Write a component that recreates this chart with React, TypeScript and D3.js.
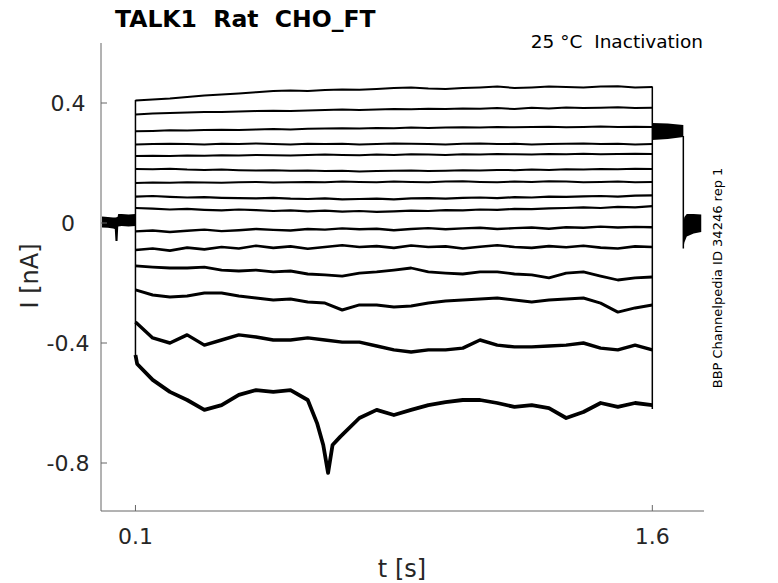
import React, { useRef, useEffect } from 'react';
import * as d3 from 'd3';

// sample times during the voltage step [s]
const stepTimes = [
  0.1, 0.15, 0.2, 0.25, 0.3, 0.35, 0.4, 0.45, 0.5, 0.55, 0.6, 0.65, 0.7, 0.75, 0.8, 0.85,
  0.9, 0.95, 1.0, 1.05, 1.1, 1.15, 1.2, 1.25, 1.3, 1.35, 1.4, 1.45, 1.5, 1.55, 1.6,
];
// the deepest sweep is read more densely around its dip
const trace15Times = [
  0.1, 0.105, 0.15, 0.2, 0.25, 0.3, 0.35, 0.4, 0.45, 0.5, 0.55, 0.6, 0.627, 0.645, 0.659, 0.672, 0.694, 0.75, 0.8, 0.85,
  0.9, 0.95, 1.0, 1.05, 1.1, 1.15, 1.2, 1.25, 1.3, 1.35, 1.4, 1.45, 1.5, 1.55, 1.6,
];

// current traces during the step [nA], top to bottom
const trace1 = [0.408, 0.412, 0.415, 0.42, 0.425, 0.428, 0.432, 0.436, 0.44, 0.442, 0.44, 0.443, 0.445, 0.444, 0.447, 0.45, 0.452, 0.448, 0.447, 0.45, 0.452, 0.455, 0.45, 0.452, 0.455, 0.453, 0.452, 0.455, 0.456, 0.452, 0.453];
const trace2 = [0.362, 0.365, 0.367, 0.368, 0.37, 0.37, 0.372, 0.373, 0.374, 0.373, 0.375, 0.377, 0.378, 0.377, 0.378, 0.38, 0.379, 0.381, 0.38, 0.382, 0.381, 0.383, 0.38, 0.384, 0.382, 0.385, 0.383, 0.384, 0.386, 0.383, 0.384];
const trace3 = [0.306, 0.307, 0.309, 0.308, 0.31, 0.311, 0.31, 0.312, 0.313, 0.312, 0.314, 0.315, 0.316, 0.315, 0.317, 0.316, 0.318, 0.317, 0.318, 0.319, 0.318, 0.32, 0.319, 0.32, 0.321, 0.319, 0.32, 0.322, 0.32, 0.321, 0.32];
const trace4 = [0.262, 0.263, 0.264, 0.263, 0.262, 0.264, 0.263, 0.265, 0.263, 0.262, 0.264, 0.263, 0.264, 0.262, 0.263, 0.265, 0.264, 0.263, 0.262, 0.264, 0.265, 0.263, 0.264, 0.262, 0.263, 0.264, 0.265, 0.263, 0.264, 0.262, 0.263];
const trace5 = [0.223, 0.224, 0.223, 0.225, 0.224, 0.226, 0.225, 0.227, 0.226, 0.225, 0.227, 0.228, 0.227, 0.226, 0.228, 0.227, 0.229, 0.228, 0.227, 0.229, 0.228, 0.23, 0.229, 0.228, 0.23, 0.229, 0.231, 0.229, 0.23, 0.231, 0.23];
const trace6 = [0.18, 0.179, 0.181, 0.178, 0.177, 0.178, 0.176, 0.175, 0.176, 0.174, 0.175, 0.173, 0.174, 0.172, 0.173, 0.174, 0.175, 0.173, 0.174, 0.176, 0.175, 0.177, 0.176, 0.178, 0.177, 0.179, 0.178, 0.18, 0.179, 0.181, 0.18];
const trace7 = [0.133, 0.135, 0.134, 0.136, 0.135, 0.134, 0.136, 0.137, 0.135, 0.136, 0.137, 0.136, 0.138, 0.137, 0.136, 0.138, 0.137, 0.136, 0.138, 0.139, 0.137, 0.136, 0.138, 0.137, 0.139, 0.138, 0.136, 0.137, 0.138, 0.136, 0.137];
const trace8 = [0.088, 0.09, 0.087, 0.085, 0.086, 0.084, 0.083, 0.082, 0.084, 0.081, 0.08, 0.082, 0.079, 0.08, 0.081, 0.079, 0.082, 0.083, 0.081, 0.084, 0.085, 0.083, 0.086, 0.085, 0.088, 0.087, 0.089, 0.09, 0.088, 0.091, 0.092];
const trace9 = [0.05, 0.048, 0.045, 0.047, 0.044, 0.042, 0.045, 0.043, 0.04, 0.042, 0.039, 0.041, 0.038, 0.04, 0.037, 0.039, 0.041, 0.04, 0.043, 0.042, 0.045, 0.044, 0.047, 0.046, 0.049, 0.05, 0.052, 0.05, 0.054, 0.052, 0.056];
const trace10 = [-0.028, -0.025, -0.03, -0.026, -0.022, -0.027, -0.024, -0.02, -0.023, -0.025, -0.02, -0.022, -0.018, -0.021, -0.019, -0.024, -0.02, -0.017, -0.021, -0.018, -0.016, -0.02, -0.017, -0.015, -0.019, -0.014, -0.016, -0.012, -0.015, -0.013, -0.014];
const trace11 = [-0.09, -0.085, -0.092, -0.082, -0.088, -0.08, -0.085, -0.076, -0.083, -0.078, -0.086, -0.08, -0.074, -0.08, -0.077, -0.083, -0.075, -0.08, -0.078, -0.085, -0.079, -0.074, -0.08, -0.083, -0.077, -0.081, -0.076, -0.082, -0.085, -0.078, -0.08];
const trace12 = [-0.143, -0.147, -0.15, -0.15, -0.147, -0.157, -0.16, -0.157, -0.163, -0.16, -0.17, -0.173, -0.177, -0.167, -0.163, -0.157, -0.15, -0.163, -0.167, -0.17, -0.163, -0.163, -0.17, -0.173, -0.183, -0.167, -0.163, -0.177, -0.19, -0.183, -0.18];
const trace13 = [-0.223, -0.24, -0.247, -0.243, -0.233, -0.233, -0.243, -0.25, -0.257, -0.253, -0.263, -0.267, -0.29, -0.273, -0.273, -0.28, -0.277, -0.267, -0.26, -0.257, -0.253, -0.25, -0.257, -0.263, -0.257, -0.253, -0.25, -0.267, -0.297, -0.283, -0.273];
const trace14 = [-0.33, -0.383, -0.4, -0.373, -0.407, -0.39, -0.373, -0.38, -0.39, -0.39, -0.383, -0.39, -0.397, -0.397, -0.41, -0.423, -0.43, -0.423, -0.423, -0.417, -0.39, -0.407, -0.413, -0.413, -0.41, -0.407, -0.4, -0.417, -0.423, -0.407, -0.423];
const trace15 = [-0.44, -0.47, -0.523, -0.563, -0.59, -0.623, -0.607, -0.573, -0.557, -0.563, -0.557, -0.59, -0.667, -0.74, -0.833, -0.74, -0.713, -0.65, -0.623, -0.64, -0.623, -0.607, -0.597, -0.59, -0.59, -0.6, -0.613, -0.607, -0.617, -0.65, -0.63, -0.6, -0.613, -0.6, -0.607];

const traces = [trace1, trace2, trace3, trace4, trace5, trace6, trace7, trace8, trace9, trace10, trace11, trace12, trace13, trace14, trace15];
const traceTimes = traces.map((tr) => (tr === trace15 ? trace15Times : stepTimes));

// holding current before the step (noise band, all sweeps overlaid)
const preTimes = [0.003, 0.02, 0.035, 0.04, 0.042, 0.048, 0.05, 0.06, 0.08, 0.1];
const preHigh = [0.022, 0.02, 0.018, 0.018, 0.018, 0.02, 0.03, 0.03, 0.028, 0.03];
const preLow = [-0.015, -0.016, -0.018, -0.02, -0.06, -0.06, -0.012, -0.01, -0.012, -0.01];

// tail after the step
const tailTimes = [1.6, 1.645, 1.69];
const tailHigh = [0.333, 0.332, 0.327];
const tailLow = [0.277, 0.28, 0.287];

// return to holding
const postTimes = [1.69, 1.693, 1.7, 1.72, 1.742];
const postHigh = [0.0, 0.02, 0.03, 0.03, 0.028];
const postLow = [-0.085, -0.065, -0.045, -0.035, -0.03];

const xTicks = [0.1, 1.6];
const yTicks = [-0.8, -0.4, 0, 0.4];

const traceWidths = [2, 2, 2, 2, 2, 2, 2, 2.2, 2.2, 2.4, 2.6, 2.8, 3, 3.4, 3.8];

const App: React.FC = () => {
  const svgRef = useRef<SVGSVGElement | null>(null);

  useEffect(() => {
    if (!svgRef.current) return;
    const W = 778;
    const H = 583;
    const left = 101;
    const right = 704;
    const top = 43;
    const bottom = 511;
    const font = 'DejaVu Sans, sans-serif';

    const svg = d3.select(svgRef.current);
    svg.selectAll('*').remove();
    svg.attr('width', W).attr('height', H).style('background', '#fff');

    const x = d3.scaleLinear().domain([0, 1.75]).range([left, right]);
    const y = d3.scaleLinear().domain([-0.96, 0.6]).range([bottom, top]);

    const plot = svg.append('g');

    // noise bands
    const band = (ts: number[], hi: number[], lo: number[]) =>
      d3
        .area<number>()
        .x((_, i) => x(ts[i]))
        .y0((_, i) => y(lo[i]))
        .y1((_, i) => y(hi[i]))(ts);

    plot.append('path').attr('d', band(preTimes, preHigh, preLow)).attr('fill', '#000');
    plot.append('path').attr('d', band(tailTimes, tailHigh, tailLow)).attr('fill', '#000');
    plot.append('path').attr('d', band(postTimes, postHigh, postLow)).attr('fill', '#000');

    const line = d3
      .line<[number, number]>()
      .x((d) => x(d[0]))
      .y((d) => y(d[1]));

    // onset and offset jumps
    plot
      .append('path')
      .attr('d', line([[0.1, 0], [0.1, 0.41]]))
      .attr('stroke', '#000')
      .attr('stroke-width', 1.5);
    plot
      .append('path')
      .attr('d', line([[0.1, 0], [0.1, -0.44]]))
      .attr('stroke', '#000')
      .attr('stroke-width', 1.5);
    plot
      .append('path')
      .attr('d', line([[1.6, 0.455], [1.6, -0.62]]))
      .attr('stroke', '#000')
      .attr('stroke-width', 1.5);

    traces.forEach((tr, k) => {
      const ts = traceTimes[k];
      const pts: [number, number][] = tr.map((v, i) => [ts[i], v]);
      plot
        .append('path')
        .attr('d', line(pts))
        .attr('fill', 'none')
        .attr('stroke', '#000')
        .attr('stroke-width', traceWidths[k])
        .attr('stroke-linejoin', 'round');
    });

    // drop from tail to holding
    plot
      .append('path')
      .attr('d', line([[1.69, 0.29], [1.69, -0.085]]))
      .attr('stroke', '#000')
      .attr('stroke-width', 1.5);

    // axes
    const axisColor = '#666';
    svg
      .append('line')
      .attr('x1', left)
      .attr('x2', left)
      .attr('y1', top)
      .attr('y2', bottom)
      .attr('stroke', axisColor);
    svg
      .append('line')
      .attr('x1', left)
      .attr('x2', right)
      .attr('y1', bottom)
      .attr('y2', bottom)
      .attr('stroke', axisColor);

    yTicks.forEach((t) => {
      svg
        .append('line')
        .attr('x1', left)
        .attr('x2', left + 6)
        .attr('y1', y(t))
        .attr('y2', y(t))
        .attr('stroke', axisColor);
      svg
        .append('text')
        .attr('x', 68)
        .attr('y', y(t) + 8)
        .attr('text-anchor', 'middle')
        .attr('font-family', font)
        .attr('font-size', 22)
        .attr('fill', '#262626')
        .text(String(t));
    });

    xTicks.forEach((t) => {
      svg
        .append('line')
        .attr('x1', x(t))
        .attr('x2', x(t))
        .attr('y1', bottom)
        .attr('y2', bottom - 6)
        .attr('stroke', axisColor);
      svg
        .append('text')
        .attr('x', x(t))
        .attr('y', 544)
        .attr('text-anchor', 'middle')
        .attr('font-family', font)
        .attr('font-size', 22)
        .attr('fill', '#262626')
        .text(String(t));
    });

    svg
      .append('text')
      .attr('x', 402)
      .attr('y', 577)
      .attr('text-anchor', 'middle')
      .attr('font-family', font)
      .attr('font-size', 24)
      .attr('fill', '#262626')
      .text('t [s]');

    svg
      .append('text')
      .attr('transform', 'translate(38,276) rotate(-90)')
      .attr('text-anchor', 'middle')
      .attr('font-family', font)
      .attr('font-size', 24)
      .attr('fill', '#262626')
      .text('I [nA]');

    svg
      .append('text')
      .attr('x', 115)
      .attr('y', 27)
      .attr('font-family', font)
      .attr('font-size', 23.5)
      .attr('font-weight', 'bold')
      .style('white-space', 'pre')
      .text('TALK1  Rat  CHO_FT');

    svg
      .append('text')
      .attr('x', 703)
      .attr('y', 48)
      .attr('text-anchor', 'end')
      .attr('font-family', font)
      .attr('font-size', 18.5)
      .style('white-space', 'pre')
      .text('25 °C  Inactivation');

    svg
      .append('text')
      .attr('transform', 'translate(722,278) rotate(-90)')
      .attr('text-anchor', 'middle')
      .attr('font-family', font)
      .attr('font-size', 13)
      .text('BBP Channelpedia ID 34246 rep 1');
  }, []);

  return <svg ref={svgRef} style={{ position: 'absolute', left: 0, top: 0 }} />;
};

export default App;
